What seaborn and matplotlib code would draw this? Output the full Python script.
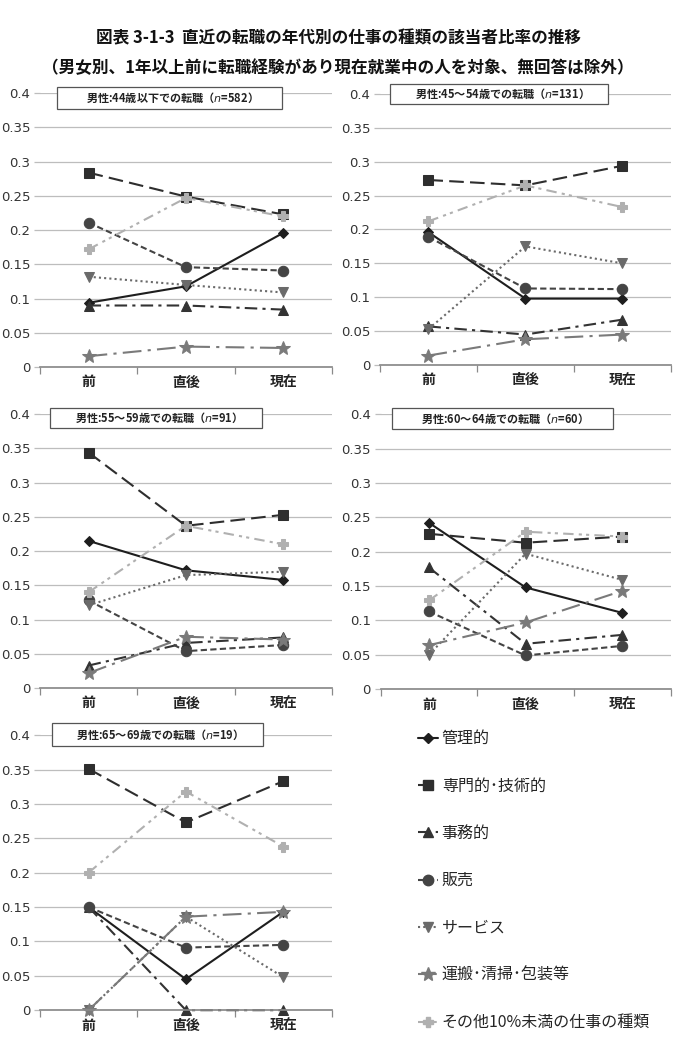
import matplotlib
matplotlib.use('Agg')
import matplotlib.pyplot as plt
import numpy as np
import pandas as pd
import seaborn as sns
from matplotlib.lines import Line2D
from matplotlib.patches import Rectangle
from matplotlib.ticker import FixedLocator, FuncFormatter

sns.set_theme(style='white')
plt.rcParams['font.family'] = ['Noto Sans CJK JP', 'DejaVu Sans']
plt.rcParams['mathtext.fontset'] = 'dejavusans'

# ---------------- data ----------------
periods = ['前', '直後', '現在']
jobs = ['管理的', '専門的･技術的', '事務的', '販売', 'サービス',
        '運搬･清掃･包装等', 'その他10%未満の仕事の種類']

# rows follow `jobs`, columns follow `periods`
rate_44 = [[0.094, 0.118, 0.196],
           [0.284, 0.249, 0.223],
           [0.090, 0.090, 0.084],
           [0.211, 0.146, 0.141],
           [0.132, 0.120, 0.109],
           [0.016, 0.030, 0.028],
           [0.172, 0.247, 0.220]]
rate_45 = [[0.196, 0.098, 0.098],
           [0.273, 0.265, 0.294],
           [0.057, 0.045, 0.067],
           [0.189, 0.113, 0.112],
           [0.053, 0.175, 0.150],
           [0.014, 0.038, 0.045],
           [0.212, 0.265, 0.233]]
rate_55 = [[0.215, 0.172, 0.158],
           [0.344, 0.237, 0.253],
           [0.033, 0.066, 0.074],
           [0.128, 0.054, 0.063],
           [0.121, 0.165, 0.170],
           [0.022, 0.075, 0.071],
           [0.140, 0.237, 0.210]]
rate_60 = [[0.242, 0.148, 0.111],
           [0.226, 0.213, 0.222],
           [0.177, 0.066, 0.079],
           [0.113, 0.049, 0.063],
           [0.050, 0.197, 0.159],
           [0.064, 0.097, 0.143],
           [0.129, 0.229, 0.222]]
rate_65 = [[0.150, 0.045, 0.143],
           [0.351, 0.273, 0.333],
           [0.150, 0.000, 0.000],
           [0.150, 0.091, 0.095],
           [0.000, 0.136, 0.048],
           [0.000, 0.136, 0.143],
           [0.200, 0.318, 0.238]]

panel_titles = ['男性:44歳以下での転職（$n$=582）',
                '男性:45～54歳での転職（$n$=131）',
                '男性:55～59歳での転職（$n$=91）',
                '男性:60～64歳での転職（$n$=60）',
                '男性:65～69歳での転職（$n$=19）']
y_ticks = [0, 0.05, 0.1, 0.15, 0.2, 0.25, 0.3, 0.35, 0.4]

# ---------------- styles ----------------
colors = dict(zip(jobs, ['#1e1e1e', '#2e2e2e', '#333333', '#444444',
                         '#6a6a6a', '#7a7a7a', '#b0b0b0']))
markers = dict(zip(jobs, ['D', 's', '^', 'o', 'v', '*', 'P']))
dashes = dict(zip(jobs, ['', (7, 3), (6, 2.5, 1.5, 2.5), (3, 1.6), (1, 1.5),
                         (9, 3, 1.5, 3), (5, 2.5, 1.5, 2, 1.5, 2.5)]))
msize = {'D': 5.5, 's': 7, '^': 7, 'o': 7.5, 'v': 7, '*': 10, 'P': 7}

fig = plt.figure(figsize=(6.76, 10.49), dpi=100)

axes_pos = [[0.059, 0.650, 0.432, 0.2612],
            [0.562, 0.652, 0.4305, 0.2585],
            [0.059, 0.344, 0.432, 0.2612],
            [0.563, 0.343, 0.429, 0.2622],
            [0.059, 0.037, 0.432, 0.2622]]
box_pos = [(0.058, 0.942, 0.771, 0.080),
           (0.034, 0.963, 0.750, 0.074),
           (0.034, 0.949, 0.726, 0.073),
           (0.041, 0.945, 0.759, 0.077),
           (0.041, 0.960, 0.723, 0.084)]
all_rates = [rate_44, rate_45, rate_55, rate_60, rate_65]

for pos, rates, title, bp in zip(axes_pos, all_rates, panel_titles, box_pos):
    ax = fig.add_axes(pos)
    rows = [(j, p, v) for j, row in zip(jobs, rates) for p, v in zip(periods, row)]
    df = pd.DataFrame(rows, columns=['job', 'period', 'rate'])
    sns.lineplot(data=df, x='period', y='rate', hue='job', style='job',
                 hue_order=jobs, style_order=jobs, palette=colors,
                 markers=markers, dashes=dashes, linewidth=1.5,
                 sort=False, legend=False, ax=ax)
    for ln in ax.lines:
        ln.set_markeredgecolor(ln.get_color())
        ln.set_markerfacecolor(ln.get_color())
        ln.set_markersize(msize.get(ln.get_marker(), 6))
        ln.set_clip_on(False)
    ax.set_xlim(-0.5, 2.5)
    ax.set_ylim(0, 0.4)
    ax.set_yticks(y_ticks)
    ax.yaxis.set_major_formatter(FuncFormatter(lambda v, p: f'{v:g}'))
    ax.xaxis.set_minor_locator(FixedLocator([-0.5, 0.5, 1.5, 2.5]))
    ax.set_xlabel('')
    ax.set_ylabel('')
    ax.yaxis.grid(True, color='#bdbdbd', linewidth=0.9)
    ax.set_axisbelow(True)
    for s in ['top', 'right', 'left']:
        ax.spines[s].set_visible(False)
    ax.spines['bottom'].set_color('#8a8a8a')
    ax.tick_params(axis='x', which='major', bottom=True, length=0, pad=6,
                   labelsize=10, labelcolor='#222222')
    ax.tick_params(axis='x', which='minor', bottom=True, length=5,
                   color='#8a8a8a', width=0.9)
    ax.tick_params(axis='y', left=True, length=4, color='#bdbdbd', width=0.9,
                   labelsize=9.5, labelcolor='#333333', pad=3)
    for lab in ax.get_xticklabels():
        lab.set_fontweight('bold')
    for lab in ax.get_yticklabels():
        lab.set_family('DejaVu Sans')
    x0, y0, w, h = bp
    ax.add_patch(Rectangle((x0, y0), w, h, transform=ax.transAxes,
                           facecolor='white', edgecolor='#555555', lw=0.9,
                           clip_on=False, zorder=5))
    ax.text(x0 + w / 2, y0 + h / 2, title, transform=ax.transAxes,
            ha='center', va='center', fontsize=8, fontweight='bold',
            color='#222222', zorder=6)

fig.text(0.5, 0.963, '図表 3-1-3  直近の転職の年代別の仕事の種類の該当者比率の推移',
         ha='center', va='center', fontsize=12, fontweight='bold', color='#111111')
fig.text(0.5, 0.935, '（男女別、1年以上前に転職経験があり現在就業中の人を対象、無回答は除外）',
         ha='center', va='center', fontsize=12, fontweight='bold', color='#111111')

handles = [Line2D([0], [0], color=colors[j], marker=markers[j],
                  markersize=msize[markers[j]], markerfacecolor=colors[j],
                  markeredgecolor=colors[j], linewidth=1.5,
                  dashes=dashes[j] if dashes[j] else (None, None))
           for j in jobs]
handles[0].set_linestyle('-')
fig.legend(handles, jobs, loc='upper left', bbox_to_anchor=(0.618, 0.304),
           frameon=False, fontsize=11.5, labelspacing=1.9, handlelength=1.25,
           handletextpad=0.25, borderpad=0, borderaxespad=0)

fig.savefig('out.png', dpi=100)
